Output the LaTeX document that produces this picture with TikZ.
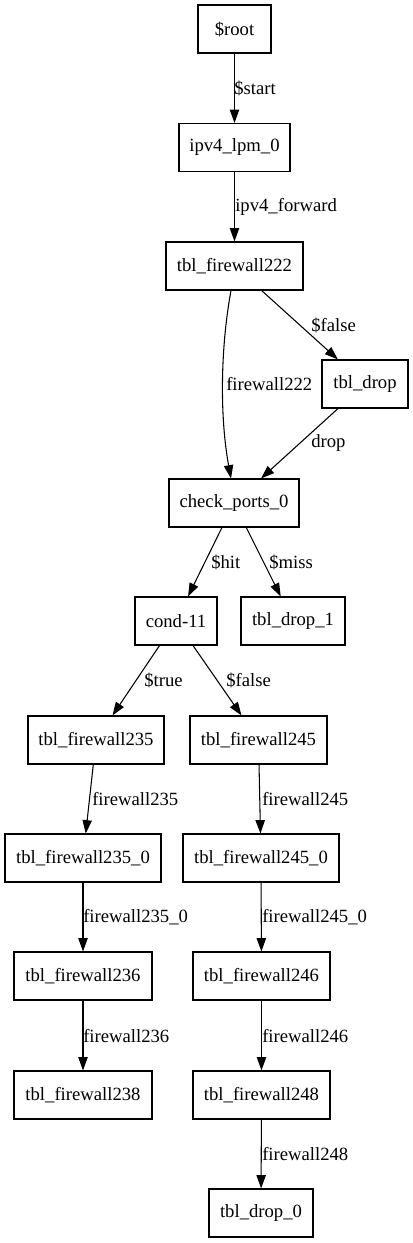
\documentclass[tikz,border=0pt]{standalone}
\usepackage{fontspec}
\setmainfont{Liberation Serif}
\usetikzlibrary{arrows.meta,calc}
\begin{document}
\begin{tikzpicture}[x=0.75pt,y=-0.75pt,
  box/.style={draw, rectangle, minimum height=36pt, inner sep=0pt, line width=0.8pt, font=\fontsize{14}{16}\selectfont},
  lbl/.style={anchor=west, inner sep=0pt, font=\fontsize{14}{16}\selectfont},
  edge/.style={line width=0.8pt, -{Triangle[length=10pt,width=7pt]}}]
\useasboundingbox (0,0) rectangle (413,1243);
% nodes
\node[box, minimum width=0.75pt*73]  (root)  at (234.5,29)   {\$root};
\node[box, minimum width=0.75pt*111] (ipv4)  at (234.5,147.5) {ipv4\_lpm\_0};
\node[box, minimum width=0.75pt*137] (fw222) at (234.5,266)  {tbl\_firewall222};
\node[box, minimum width=0.75pt*86]  (drop)  at (365,384)    {tbl\_drop};
\node[box, minimum width=0.75pt*130] (check) at (234,503)    {check\_ports\_0};
\node[box, minimum width=0.75pt*82]  (cond)  at (176,621)    {cond-11};
\node[box, minimum width=0.75pt*104] (dropa) at (293,621)    {tbl\_drop\_1};
\node[box, minimum width=0.75pt*136] (fwa)   at (96,740)     {tbl\_firewall235};
\node[box, minimum width=0.75pt*137] (fwb)   at (258.5,740)  {tbl\_firewall245};
\node[box, minimum width=0.75pt*156] (fwaz)  at (83,858)     {tbl\_firewall235\_0};
\node[box, minimum width=0.75pt*156] (fwbz)  at (261,858)    {tbl\_firewall245\_0};
\node[box, minimum width=0.75pt*138] (fwc)   at (83,976)     {tbl\_firewall236};
\node[box, minimum width=0.75pt*137] (fwd)   at (261.5,976)  {tbl\_firewall246};
\node[box, minimum width=0.75pt*138] (fwe)   at (83,1095)    {tbl\_firewall238};
\node[box, minimum width=0.75pt*137] (fwf)   at (261.5,1095) {tbl\_firewall248};
\node[box, minimum width=0.75pt*104] (dropz) at (261,1213)   {tbl\_drop\_0};
% edges
\draw[edge] (root) -- (ipv4);
\draw[edge] (ipv4) -- (fw222);
\draw[edge] ($(fw222.south)+(-3.5,0)$) .. controls +(-11,60) and +(-11,-60) .. ($(check.north)+(-3,0)$);
\draw[edge] (fw222) -- (drop);
\draw[edge] (drop) -- (check);
\draw[edge] (check) -- (cond);
\draw[edge] (check) -- (dropa);
\draw[edge] (cond) -- (fwa);
\draw[edge] (cond) -- (fwb);
\draw[edge] (fwa) -- (fwaz);
\draw[edge] (fwb) -- (fwbz);
\draw[edge] (fwaz) -- (fwc);
\draw[edge] (fwbz) -- (fwd);
\draw[edge] (fwc) -- (fwe);
\draw[edge] (fwd) -- (fwf);
\draw[edge] (fwf) -- (dropz);
% labels
\node[lbl] (l1)  at (234,88)   {\$start};
\node[lbl] (l2)  at (235,207)  {ipv4\_forward};
\node[lbl] (l3)  at (226,384)  {firewall222};
\node[lbl] (l4)  at (311,325)  {\$false};
\node[lbl] (l5)  at (311,443)  {drop};
\node[lbl] (l6)  at (211,562)  {\$hit};
\node[lbl] (l7)  at (269,562)  {\$miss};
\node[lbl] (l8)  at (144,680)  {\$true};
\node[lbl] (l9)  at (226,680)  {\$false};
\node[lbl] (l10) at (92,799)   {firewall235};
\node[lbl] (l11) at (262,799)  {firewall245};
\node[lbl] (l12) at (83,917)   {firewall235\_0};
\node[lbl] (l13) at (262,917)  {firewall245\_0};
\node[lbl] (l14) at (83,1036)  {firewall236};
\node[lbl] (l15) at (262,1036) {firewall246};
\node[lbl] (l16) at (262,1154) {firewall248};
\end{tikzpicture}
\end{document}
